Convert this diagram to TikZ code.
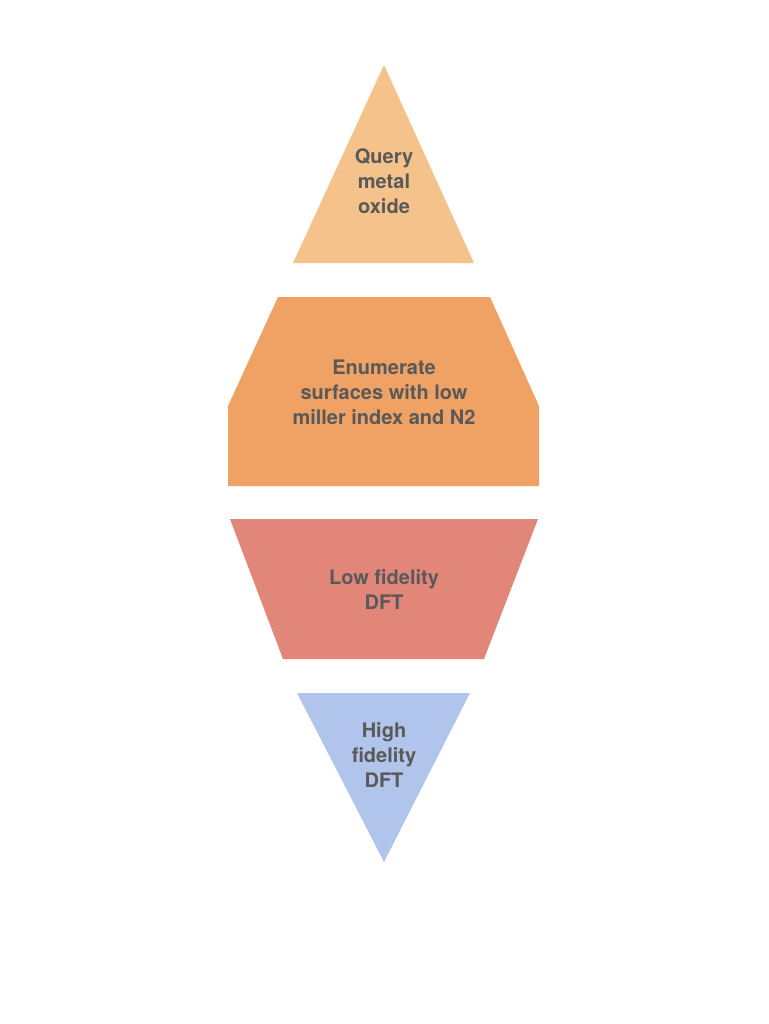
\documentclass[tikz,border=0pt]{standalone}
\usepackage{fontspec}
\setmainfont{TeX Gyre Heros}
\usepackage{tikz}
\usetikzlibrary{positioning}

\definecolor{queryfill}{HTML}{F5C28B}
\definecolor{enumfill}{HTML}{F0A264}
\definecolor{lowfill}{HTML}{E3867A}
\definecolor{highfill}{HTML}{B1C4EB}
\definecolor{labeltext}{HTML}{595959}

\begin{document}
\begin{tikzpicture}[x=0.75pt, y=-0.75pt,
    stagelabel/.style={align=center, text=labeltext, font=\fontsize{15}{18.75}\selectfont\bfseries, inner sep=0pt}]
    \useasboundingbox (0,0) rectangle (768,1024);

    % funnel stages
    \fill[queryfill] (384,65) -- (474,263) -- (293,263) -- cycle;
    \fill[enumfill]  (278,297) -- (490,297) -- (539,406) -- (539,486) -- (228,486) -- (228,406) -- cycle;
    \fill[lowfill]   (230,519) -- (538,519) -- (484,659) -- (283,659) -- cycle;
    \fill[highfill]  (297,693) -- (470,693) -- (384,862) -- cycle;

    \node[stagelabel] (query) at (384,181) {Query\\metal\\oxide};
    \node[stagelabel] (enum)  at (384,392) {Enumerate\\surfaces with low\\miller index and N2};
    \node[stagelabel] (low)   at (384,589.5) {Low fidelity\\DFT};
    \node[stagelabel] (high)  at (384,755) {High\\fidelity\\DFT};
\end{tikzpicture}
\end{document}
